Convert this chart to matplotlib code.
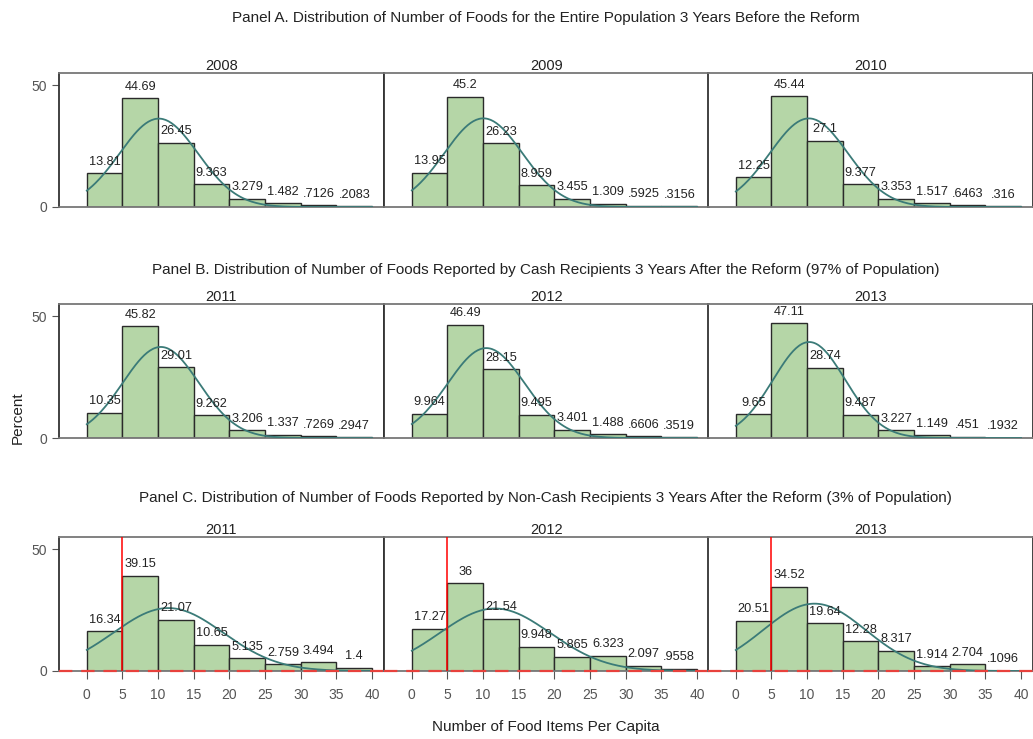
import matplotlib.pyplot as plt
import numpy as np

plt.rcParams['font.family'] = ['Liberation Sans Narrow', 'Liberation Sans', 'DejaVu Sans']

bin_edges = [0, 5, 10, 15, 20, 25, 30, 35, 40]

panel_titles = [
    'Panel A. Distribution of Number of Foods for the Entire Population 3 Years Before the Reform',
    'Panel B. Distribution of Number of Foods Reported by Cash Recipients 3 Years After the Reform (97% of Population)',
    'Panel C. Distribution of Number of Foods Reported by Non-Cash Recipients 3 Years After the Reform (3% of Population)',
]
years_a = ['2008', '2009', '2010']
years_b = ['2011', '2012', '2013']
years_c = ['2011', '2012', '2013']

pct_a = [
    [13.81, 44.69, 26.45, 9.363, 3.279, 1.482, 0.7126, 0.2083],
    [13.95, 45.2, 26.23, 8.959, 3.455, 1.309, 0.5925, 0.3156],
    [12.25, 45.44, 27.1, 9.377, 3.353, 1.517, 0.6463, 0.316],
]
pct_b = [
    [10.35, 45.82, 29.01, 9.262, 3.206, 1.337, 0.7269, 0.2947],
    [9.964, 46.49, 28.15, 9.495, 3.401, 1.488, 0.6606, 0.3519],
    [9.65, 47.11, 28.74, 9.487, 3.227, 1.149, 0.451, 0.1932],
]
pct_c = [
    [16.34, 39.15, 21.07, 10.65, 5.135, 2.759, 3.494, 1.4],
    [17.27, 36, 21.54, 9.948, 5.865, 6.323, 2.097, 0.9558],
    [20.51, 34.52, 19.64, 12.28, 8.317, 1.914, 2.704, 0.1096],
]

BAR = '#b5d6a7'
EDGE = '#2a2a2a'
CURVE = '#3b7b78'
GRAY = '#555555'


def fmt(v):
    s = f'{v:.4g}'
    if s.startswith('0.'):
        s = s[1:]
    return s


def draw_hist(ax, pct, year):
    edges = np.array(bin_edges, dtype=float)
    mids = (edges[:-1] + edges[1:]) / 2
    w = edges[1] - edges[0]
    p = np.array(pct)
    ax.bar(mids, p, width=w, color=BAR, edgecolor=EDGE, linewidth=1.0, zorder=2)
    for m, v in zip(mids, p):
        ax.annotate(fmt(v), (m, v), xytext=(0, 4), textcoords='offset points',
                    ha='center', va='bottom', fontsize=9.2, color='#222222', zorder=4)
    # normal curve from binned moments
    mu = np.sum(mids * p) / p.sum()
    var = np.sum((mids - mu) ** 2 * p) / p.sum() - w ** 2 / 12
    sd = np.sqrt(var)
    xs = np.linspace(edges[0], edges[-1], 200)
    ys = 100 * w * np.exp(-0.5 * ((xs - mu) / sd) ** 2) / (sd * np.sqrt(2 * np.pi))
    ax.plot(xs, ys, color=CURVE, lw=1.3, zorder=3)
    ax.set_title(year, fontsize=10.5, pad=2, color='#222222')


fig = plt.figure(figsize=(10.33, 7.39), dpi=100)

lefts = [59 / 1033, 384 / 1033, 708 / 1033]
width = 324.5 / 1033
bottoms = [1 - 207 / 739, 1 - 438 / 739, 1 - 671 / 739]
height = 134 / 739
title_y = [1 - 18 / 739, 1 - 270 / 739, 1 - 498 / 739]

panels = [(years_a, pct_a), (years_b, pct_b), (years_c, pct_c)]

for r, (years, pcts) in enumerate(panels):
    for c in range(3):
        ax = fig.add_axes([lefts[c], bottoms[r], width, height])
        draw_hist(ax, pcts[c], years[c])
        ax.set_xlim(-3.9, 41.6)
        ax.set_ylim(0, 55)
        for s in ax.spines.values():
            s.set_color('#333333')
            s.set_linewidth(1.3)
        ax.spines['top'].set_color('#777777')
        ax.spines['bottom'].set_color('#777777')
        if c == 0:
            ax.set_yticks([0, 50])
            ax.tick_params(axis='y', colors=GRAY, labelsize=10, length=5, width=0.8)
        else:
            ax.set_yticks([])
        if r == 2:
            ax.set_xticks(bin_edges)
            ax.tick_params(axis='x', colors=GRAY, labelsize=10, length=6, width=0.8, pad=6)
            ax.axvline(5, color='red', lw=1.1, zorder=5)
            ax.axhline(0, color='#e8413c', lw=1.6, ls=(0, (6, 4)), zorder=5, clip_on=False)
        else:
            ax.set_xticks([])
    fig.text(545.5 / 1033, title_y[r], panel_titles[r], ha='center', va='center',
             fontsize=11, color='#222222')

fig.text(18 / 1033, 1 - 418 / 739, 'Percent', rotation=90, ha='center', va='center',
         fontsize=11, color='#222222')
fig.text(545.5 / 1033, 1 - 727 / 739, 'Number of Food Items Per Capita', ha='center',
         va='center', fontsize=11, color='#222222')

fig.savefig('out.png', dpi=100)
